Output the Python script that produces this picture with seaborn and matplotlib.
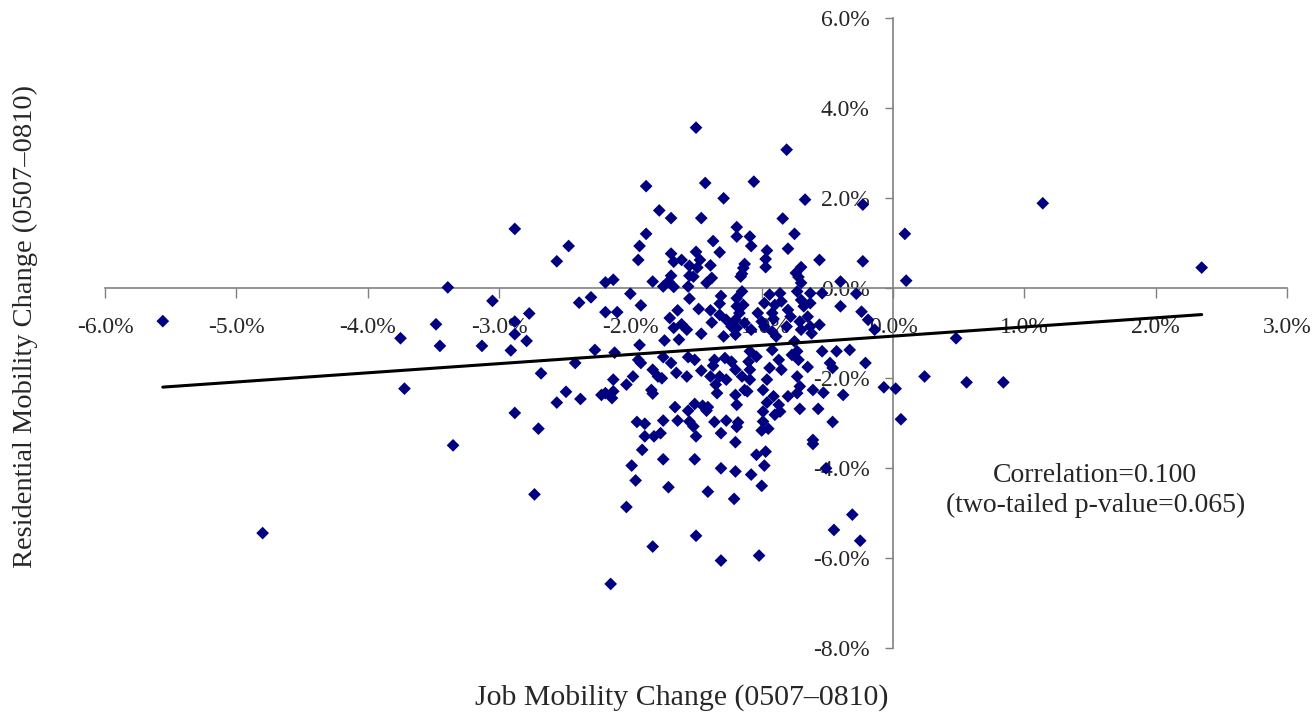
import numpy as np
import matplotlib
matplotlib.use("Agg")
import matplotlib.pyplot as plt
import seaborn as sns

# job mobility change (x, %) and residential mobility change (y, %)
job_change = [
    -2.88, -2.47, -2.56, -3.39, -3.05, -2.39, -5.56, -3.48, -2.77, -2.88,
    -2.88, -3.75, -3.45, -3.13, -2.91, -2.79, -2.42, -2.68, -3.72, -2.49,
    -2.38, -2.56, -2.88, -2.70, -3.35, -2.73, -4.80, -2.30, -2.22, -2.27,
    1.14, 2.35, 0.09, 0.10, 0.48, 0.24, 0.56, 0.84, -0.07, 0.02, 0.06,
    -1.50, -1.88, -1.43, -1.29, -1.78, -1.69, -1.46, -1.19, -1.19, -1.88,
    -1.93, -1.94, -1.37, -1.32, -1.50, -1.69, -1.67, -1.61, -1.47, -1.55,
    -1.49, -1.39, -1.38, -1.69, -1.71, -1.55, -1.52, -2.19, -2.13, -1.83,
    -1.75, -1.67, -1.56,
    -0.81, -1.06, -0.67, -0.23, -0.84, -1.09, -1.08, -0.75, -0.80, -0.96,
    -0.97, -0.97, -1.13, -1.14, -1.15, -1.16, -0.56, -0.23, -0.70, -0.74,
    -0.72, -0.70, -0.40,
    -1.42, -2.00, -1.92, -2.19, -2.10, -1.55, -1.48, -1.64, -1.39, -1.31,
    -1.32, -1.19, -1.19, -1.70, -1.67, -1.61, -1.57, -1.74, -1.63, -1.46,
    -1.27, -1.23, -1.20, -1.29, -1.38, -1.32, -1.93, -2.12, -1.94, -1.92,
    -1.75, -1.69, -1.83, -1.79, -1.65, -1.57, -1.56, -1.51, -1.46, -1.39,
    -1.36, -1.37, -1.32, -1.28, -1.23, -1.20, -1.27, -1.35, -2.13, -1.98,
    -2.03, -1.84, -1.76, -2.19, -1.20,
    -1.15, -0.94, -0.86, -0.73, -0.63, -0.54, -0.28, -1.14, -0.98, -0.90,
    -0.85, -0.70, -0.63, -0.40, -1.17, -1.03, -0.92, -0.80, -0.68, -0.24,
    -1.13, -1.00, -0.91, -0.78, -0.65, -0.71, -0.63, -0.56, -0.19, -1.19,
    -1.08, -0.98, -0.92, -0.81, -0.70, -0.62, -0.14, -1.20, -0.89, -0.75,
    -1.09, -1.04, -0.92, -0.77, -0.73, -0.54, -0.43, -0.33, -1.10, -0.87,
    -0.72, -0.48, -0.21, -1.09, -0.94, -0.85, -0.65, -0.46, -1.15, -1.09,
    -0.96, -0.73, -1.13, -0.99, -0.71, -0.61, -0.38, -0.91,
    -2.14, -2.13, -1.83, -1.34, -1.66, -1.56, -1.51, -1.45, -1.41, -1.42,
    -1.95, -1.89, -1.75, -1.64, -1.55, -1.52, -1.36, -1.27, -1.18, -1.19,
    -1.89, -1.82, -1.77, -1.50, -1.31, -1.20, -1.91, -1.75, -1.51, -1.99,
    -1.31, -1.20, -1.96, -1.71, -1.41, -1.21, -2.03, -1.50, -1.83, -1.31,
    -2.15,
    -1.11, -1.19, -0.96, -0.87, -0.80, -0.73, -0.53, -0.99, -0.90, -0.86,
    -0.71, -0.57, -0.99, -1.00, -0.95, -0.46, -0.61, -0.61, -0.97, -1.04,
    -0.98, -1.08, -0.51, -1.00, -0.31, -0.45, -0.25, -1.02,
]
res_change = [
    1.32, 0.94, 0.60, 0.02, -0.28, -0.32, -0.73, -0.80, -0.56, -0.74,
    -1.02, -1.11, -1.28, -1.28, -1.38, -1.17, -1.66, -1.89, -2.23, -2.30,
    -2.46, -2.54, -2.77, -3.12, -3.49, -4.58, -5.44, -0.20, -2.37, -1.37,
    1.89, 0.46, 1.21, 0.17, -1.11, -1.96, -2.09, -2.09, -2.20, -2.23, -2.91,
    3.57, 2.27, 2.34, 2.00, 1.73, 1.56, 1.56, 1.36, 1.15, 1.21,
    0.94, 0.63, 1.05, 0.80, 0.81, 0.77, 0.59, 0.63, 0.63, 0.50,
    0.46, 0.51, 0.23, 0.28, 0.15, 0.28, 0.26, 0.13, 0.19, 0.15,
    0.04, 0.03, 0.04,
    3.08, 2.37, 1.97, 1.86, 1.55, 1.15, 0.94, 1.21, 0.88, 0.84,
    0.65, 0.47, 0.54, 0.45, 0.32, 0.26, 0.63, 0.60, 0.47, 0.34,
    0.25, 0.12, 0.15,
    0.12, -0.12, -0.38, -0.53, -0.53, -0.23, -0.46, -0.49, -0.49, -0.17,
    -0.34, -0.22, -0.40, -0.66, -0.88, -0.80, -0.92, -1.16, -1.14, -1.01,
    -0.70, -0.85, -0.70, -1.07, -0.76, -0.59, -1.26, -1.43, -1.59, -1.66,
    -1.53, -1.66, -1.81, -1.96, -1.88, -1.96, -1.53, -1.59, -1.83, -1.96,
    -1.59, -1.72, -1.96, -1.55, -1.63, -1.81, -2.03, -2.14, -2.03, -1.96,
    -2.14, -2.26, -2.00, -2.33, -2.37,
    -0.07, -0.14, -0.11, -0.07, -0.11, -0.11, -0.12, -0.37, -0.33, -0.37,
    -0.29, -0.26, -0.33, -0.40, -0.55, -0.55, -0.55, -0.48, -0.40, -0.52,
    -0.77, -0.74, -0.68, -0.63, -0.63, -0.74, -0.85, -0.81, -0.70, -0.88,
    -0.92, -0.85, -0.96, -0.85, -0.92, -1.00, -0.92, -1.03, -1.07, -1.18,
    -1.40, -1.52, -1.37, -1.48, -1.40, -1.40, -1.40, -1.37, -1.63, -1.59,
    -1.59, -1.66, -1.66, -1.81, -1.77, -1.81, -1.75, -1.77, -1.96, -2.03,
    -2.03, -1.96, -2.26, -2.26, -2.18, -2.26, -2.37, -2.40,
    -2.44, -2.29, -2.34, -2.33, -2.64, -2.72, -2.57, -2.61, -2.64, -2.72,
    -2.97, -3.01, -2.94, -2.94, -2.96, -3.07, -2.97, -2.94, -2.98, -3.08,
    -3.29, -3.29, -3.22, -3.29, -3.22, -3.42, -3.59, -3.80, -3.80, -3.94,
    -4.00, -4.07, -4.27, -4.42, -4.52, -4.68, -4.86, -5.50, -5.74, -6.05,
    -6.57,
    -2.29, -2.59, -2.54, -2.59, -2.40, -2.33, -2.32, -2.74, -2.81, -2.74,
    -2.68, -2.68, -2.96, -3.16, -3.12, -2.97, -3.37, -3.46, -3.63, -3.70,
    -3.94, -4.14, -4.00, -4.39, -5.03, -5.37, -5.61, -5.94,
]

# linear trend line (Excel style)
trend_slope = 0.2038
trend_intercept = -1.063

x_ticks = np.arange(-6, 3.5, 1.0)
y_ticks = np.arange(-8, 6.5, 2.0)

sns.set_style("white")
plt.rcParams['font.family'] = ['Liberation Serif', 'DejaVu Serif']
plt.rcParams['axes.unicode_minus'] = False

fig = plt.figure(figsize=(13.16, 7.18), dpi=100)
ax = fig.add_axes([0.0798, 0.0971, 0.8982, 0.8774])

sns.scatterplot(x=job_change, y=res_change, marker='D', s=42, color='#000080',
                edgecolor='none', linewidth=0, ax=ax, zorder=3)

trend_x = [min(job_change), max(job_change)]
trend_y = [trend_intercept + trend_slope * v for v in trend_x]
sns.lineplot(x=trend_x, y=trend_y, color='black', linewidth=2.2, ax=ax, zorder=4)

ax.set_xlim(-6, 3)
ax.set_ylim(-8, 6)

for side in ['top', 'right']:
    ax.spines[side].set_visible(False)
ax.spines['left'].set_position(('data', 0))
ax.spines['bottom'].set_position(('data', 0))
for side in ['left', 'bottom']:
    ax.spines[side].set_color('#808080')
    ax.spines[side].set_linewidth(1.2)

ax.set_xticks(x_ticks)
ax.set_xticklabels([f"{v:.1f}%" for v in x_ticks])
ax.set_yticks(y_ticks)
ax.set_yticklabels([f"{v:.1f}%" for v in y_ticks])
ax.tick_params(axis='x', direction='out', length=7, width=1, color='#808080',
               pad=14, labelsize=17, bottom=True)
ax.tick_params(axis='y', direction='out', length=6, width=1, color='#808080',
               pad=11, labelsize=17, left=True)

ax.text(1.54, -4.5, "Correlation=0.100\n(two-tailed p-value=0.065)",
        ha='center', va='center', multialignment='center', fontsize=20,
        linespacing=1.25)

fig.text(0.518, 0.029, "Job Mobility Change (0507\u20130810)",
         ha='center', va='center', fontsize=21.5)
fig.text(0.019, 0.545, "Residential Mobility Change (0507\u20130810)",
         ha='center', va='center', rotation=90, fontsize=20.5)

fig.savefig("out.png", dpi=100)
